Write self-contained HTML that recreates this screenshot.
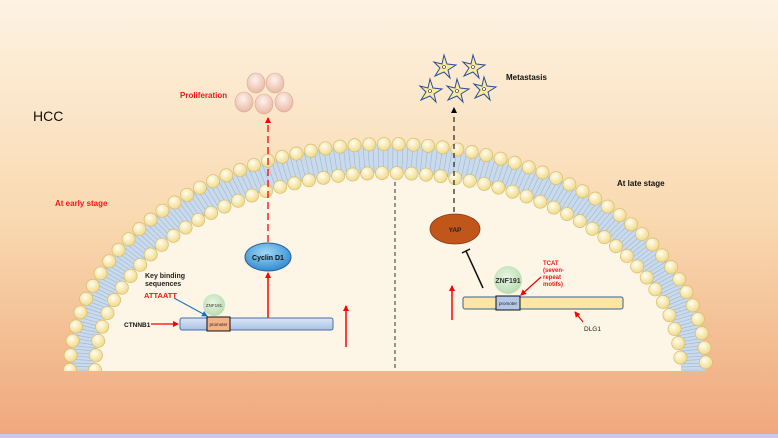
<!DOCTYPE html>
<html><head><meta charset="utf-8"><style>
html,body{margin:0;padding:0;width:778px;height:438px;overflow:hidden}
body{font-family:"Liberation Sans",sans-serif}
svg{display:block}
</style></head><body>
<svg id="s" width="778" height="438" viewBox="0 0 778 438" xmlns="http://www.w3.org/2000/svg" font-family="Liberation Sans, sans-serif">
<defs>
<linearGradient id="bg" x1="0" y1="0" x2="0" y2="1">
<stop offset="0" stop-color="#fdf3e2"/><stop offset="0.5" stop-color="#f9d9b0"/><stop offset="1" stop-color="#efa77c"/></linearGradient>
<radialGradient id="bead" cx="0.4" cy="0.35" r="0.65">
<stop offset="0" stop-color="#fffdf0"/><stop offset="1" stop-color="#f1da88"/></radialGradient>
<radialGradient id="cyc" cx="0.45" cy="0.35" r="0.7">
<stop offset="0" stop-color="#9fd8f6"/><stop offset="1" stop-color="#2a86cc"/></radialGradient>
<radialGradient id="znf" cx="0.45" cy="0.4" r="0.6">
<stop offset="0" stop-color="#eaf6e4"/><stop offset="1" stop-color="#b9dcb0"/></radialGradient>
<radialGradient id="cell" cx="0.45" cy="0.35" r="0.65">
<stop offset="0" stop-color="#fff2ec"/><stop offset="1" stop-color="#e9b8a4"/></radialGradient>
<linearGradient id="bar" x1="0" y1="0" x2="0" y2="1">
<stop offset="0" stop-color="#dbe6f6"/><stop offset="1" stop-color="#a9c0e4"/></linearGradient>
<clipPath id="cp"><rect x="0" y="0" width="778" height="371"/></clipPath>
<marker id="ar" markerWidth="6" markerHeight="6" refX="5" refY="3" orient="auto" markerUnits="userSpaceOnUse"><path d="M0,0L6,3L0,6z" fill="#f00"/></marker>
<marker id="ab" markerWidth="6" markerHeight="6" refX="5" refY="3" orient="auto" markerUnits="userSpaceOnUse"><path d="M0,0L6,3L0,6z" fill="#000"/></marker>
<marker id="au" markerWidth="6" markerHeight="6" refX="5" refY="3" orient="auto" markerUnits="userSpaceOnUse"><path d="M0,0L6,3L0,6z" fill="#1f6fc0"/></marker>
</defs>
<rect width="778" height="438" fill="url(#bg)"/>
<rect x="0" y="434" width="778" height="4" fill="#c8c8e8"/>
<g clip-path="url(#cp)">
<ellipse cx="388" cy="370" rx="318" ry="226" fill="#c9daec"/>
<g id="tails" stroke="#9fb6cf" stroke-width="0.6"></g>
<ellipse cx="388" cy="370" rx="293" ry="197" fill="#fdf6e6"/>
<g id="beads" stroke="#d6bd6c" stroke-width="0.7" fill="url(#bead)"></g>
</g>
<line x1="395" y1="182" x2="395" y2="370" stroke="#333" stroke-width="1" stroke-dasharray="4,3"/>
<text x="33" y="121" font-size="14" fill="#111">HCC</text>
<text x="55" y="206" font-size="8" font-weight="bold" fill="#f01818">At early stage</text>
<text x="617" y="186" font-size="8" font-weight="bold" fill="#111">At late stage</text>
<text x="180" y="98" font-size="8" font-weight="bold" fill="#f01818">Proliferation</text>
<g fill="url(#cell)" stroke="#dba894" stroke-width="0.6">
<ellipse cx="256" cy="83" rx="9" ry="10"/><ellipse cx="275" cy="83" rx="9" ry="10"/>
<ellipse cx="244" cy="102" rx="9" ry="10"/><ellipse cx="264" cy="104" rx="9" ry="10"/><ellipse cx="284" cy="102" rx="9" ry="10"/>
</g>
<line x1="268" y1="242" x2="268" y2="118" stroke="#f00" stroke-width="1.3" stroke-dasharray="7,4" marker-end="url(#ar)"/>
<ellipse cx="268" cy="257" rx="23" ry="14" fill="url(#cyc)" stroke="#2b5fa0" stroke-width="1"/>
<text x="268" y="260" font-size="7" font-weight="bold" text-anchor="middle" fill="#111">Cyclin D1</text>
<line x1="268" y1="318" x2="268" y2="273" stroke="#f00" stroke-width="1.5" marker-end="url(#ar)"/>
<rect x="180" y="318" width="153" height="12" rx="2" fill="url(#bar)" stroke="#4a6fa8" stroke-width="1"/>
<rect x="207" y="317" width="23" height="14" fill="#f4b183" stroke="#111" stroke-width="1"/>
<text x="218.5" y="326" font-size="4.5" text-anchor="middle" fill="#222">promoter</text>
<circle cx="214" cy="305" r="11" fill="url(#znf)"/>
<text x="214" y="307" font-size="4.5" text-anchor="middle" fill="#333">ZNF191</text>
<text x="145" y="278" font-size="7" font-weight="bold" fill="#222">Key binding</text>
<text x="145" y="286" font-size="7" font-weight="bold" fill="#222">sequences</text>
<text x="144" y="298" font-size="7.5" font-weight="bold" fill="#f01818">ATTAATT</text>
<line x1="174" y1="298" x2="207" y2="316" stroke="#1f6fc0" stroke-width="1" marker-end="url(#au)"/>
<text x="124" y="327" font-size="6.5" font-weight="bold" fill="#111">CTNNB1</text>
<line x1="151" y1="324" x2="178" y2="324" stroke="#f00" stroke-width="1.3" marker-end="url(#ar)"/>
<line x1="346" y1="347" x2="346" y2="306" stroke="#f00" stroke-width="1.5" marker-end="url(#ar)"/>
<text x="506" y="80" font-size="8" font-weight="bold" fill="#111">Metastasis</text>
<g fill="#fde9a0" stroke="#2b4f9a" stroke-width="1">
<path d="M0,-12 L3,-3 L12,-2 L4,3 L6,11 L0,5 L-9,9 L-4,1 L-10,-5 L-2,-3 Z" transform="translate(444,67)"/>
<path d="M0,-12 L3,-3 L12,-2 L4,3 L6,11 L0,5 L-9,9 L-4,1 L-10,-5 L-2,-3 Z" transform="translate(473,67)"/>
<path d="M0,-12 L3,-3 L12,-2 L4,3 L6,11 L0,5 L-9,9 L-4,1 L-10,-5 L-2,-3 Z" transform="translate(430,91)"/>
<path d="M0,-12 L3,-3 L12,-2 L4,3 L6,11 L0,5 L-9,9 L-4,1 L-10,-5 L-2,-3 Z" transform="translate(457,91)"/>
<path d="M0,-12 L3,-3 L12,-2 L4,3 L6,11 L0,5 L-9,9 L-4,1 L-10,-5 L-2,-3 Z" transform="translate(484,89)"/>
</g>
<g fill="#fff" stroke="#222" stroke-width="0.6">
<circle cx="444" cy="67" r="1.5"/><circle cx="473" cy="67" r="1.5"/><circle cx="430" cy="91" r="1.5"/><circle cx="457" cy="91" r="1.5"/><circle cx="484" cy="89" r="1.5"/>
</g>
<line x1="454" y1="212" x2="454" y2="108" stroke="#222" stroke-width="1.2" stroke-dasharray="5,4" marker-end="url(#ab)"/>
<ellipse cx="455" cy="229" rx="25" ry="15" fill="#c0561a" stroke="#8a3a10" stroke-width="0.8"/>
<text x="455" y="232" font-size="6.5" font-weight="bold" text-anchor="middle" fill="#222">YAP</text>
<line x1="483" y1="288" x2="466" y2="251" stroke="#111" stroke-width="1.5"/>
<line x1="462" y1="253" x2="470" y2="249" stroke="#111" stroke-width="1.5"/>
<circle cx="508" cy="280" r="14" fill="url(#znf)"/>
<text x="508" y="283" font-size="7" font-weight="bold" text-anchor="middle" fill="#333">ZNF191</text>
<rect x="463" y="297" width="160" height="12" rx="2" fill="#fde6a2" stroke="#3c5e9a" stroke-width="1"/>
<rect x="496" y="296" width="24" height="14" fill="#b4c7e7" stroke="#111" stroke-width="1"/>
<text x="508" y="305" font-size="4.5" text-anchor="middle" fill="#222">promoter</text>
<g font-size="6" font-weight="bold" fill="#f01818">
<text x="543" y="265">TCAT</text><text x="543" y="272">(seven-</text><text x="543" y="279">repeat</text><text x="543" y="286">motifs)</text>
</g>
<line x1="541" y1="277" x2="521" y2="295" stroke="#f00" stroke-width="1.2" marker-end="url(#ar)"/>
<text x="584" y="331" font-size="6.5" fill="#222">DLG1</text>
<line x1="583" y1="322" x2="575" y2="312" stroke="#f00" stroke-width="1.2" marker-end="url(#ar)"/>
<line x1="452" y1="320" x2="452" y2="286" stroke="#f00" stroke-width="1.5" marker-end="url(#ar)"/>
</svg>
<script>
(function(){
var NS="http://www.w3.org/2000/svg",b=document.getElementById("beads"),t=document.getElementById("tails");
function row(rx,ry,sp){
 var N=4000,prev=null,acc=0,out=[];
 for(var i=0;i<=N;i++){var a=Math.PI*i/N;var p=[388-rx*Math.cos(a),370-ry*Math.sin(a)];
  if(prev){acc+=Math.hypot(p[0]-prev[0],p[1]-prev[1]);}
  if(i==0||acc>=sp){out.push(p);acc=0;} prev=p;}
 return out;}
var o=row(318,226,14.6),n=row(293,197,14.6);
for(var k=0;k<=200;k++){var a=Math.PI*k/200;var l=document.createElementNS(NS,"line");
 l.setAttribute("x1",388-318*Math.cos(a));l.setAttribute("y1",370-226*Math.sin(a));
 l.setAttribute("x2",388-293*Math.cos(a));l.setAttribute("y2",370-197*Math.sin(a));t.appendChild(l);}
o.concat(n).forEach(function(p){var c=document.createElementNS(NS,"circle");
 c.setAttribute("cx",p[0]);c.setAttribute("cy",p[1]);c.setAttribute("r",6.6);b.appendChild(c);});
})();
</script>
</body></html>
